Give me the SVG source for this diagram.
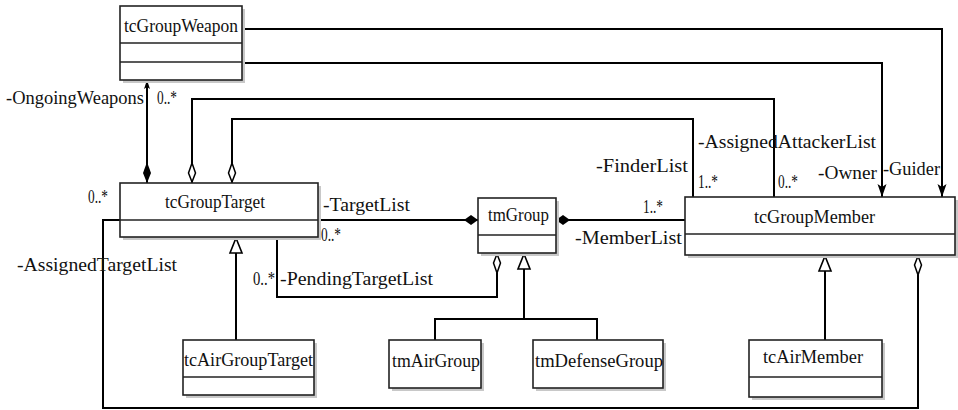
<svg xmlns="http://www.w3.org/2000/svg" width="958" height="410" viewBox="0 0 958 410">
<style>
.sh{fill:#c8c8c8;stroke:none}
.bx{fill:#fff;stroke:#222;stroke-width:1.6}
.dv{stroke:#222;stroke-width:1.6;fill:none}
.t{font-family:"Liberation Serif","Times New Roman",serif;font-size:19px;fill:#111}
.c{fill:none;stroke:#000;stroke-width:2}
</style>
<defs>
<marker id="fdS" markerUnits="userSpaceOnUse" markerWidth="16" markerHeight="12" viewBox="0 -6 16 12" refX="0" refY="0" orient="auto"><path d="M0,0 L7,-5 L14,0 L7,5 Z" fill="#000"/></marker>
<marker id="fdL" markerUnits="userSpaceOnUse" markerWidth="24" markerHeight="10" viewBox="0 -5 24 10" refX="0" refY="0" orient="auto"><path d="M0,0 L10,-4 L21,0 L10,4 Z" fill="#000"/></marker>
<marker id="hd" markerUnits="userSpaceOnUse" markerWidth="24" markerHeight="10" viewBox="0 -5 24 10" refX="0" refY="0" orient="auto"><path d="M1,0 L10,-3.5 L20,0 L10,3.5 Z" fill="#fff" stroke="#000" stroke-width="1.5"/></marker>
<marker id="tri" markerUnits="userSpaceOnUse" markerWidth="18" markerHeight="16" viewBox="0 -8 18 16" refX="0" refY="0" orient="auto"><path d="M1,0 L16,-6 L16,6 Z" fill="#fff" stroke="#000" stroke-width="1.6"/></marker>
<marker id="arr" markerUnits="userSpaceOnUse" markerWidth="14" markerHeight="10" viewBox="0 -5 14 10" refX="13" refY="0" orient="auto"><path d="M0,-4.5 L13,0 L0,4.5 L3,0 Z" fill="#000"/></marker>
<marker id="arrS" markerUnits="userSpaceOnUse" markerWidth="10" markerHeight="8" viewBox="0 -4 10 8" refX="9" refY="0" orient="auto"><path d="M0,-3 L9,0 L0,3 L2,0 Z" fill="#000"/></marker>
</defs>

<g id="connectors">
<path class="c" d="M242,29 H942 V197" marker-end="url(#arr)"/>
<path class="c" d="M242,63 H882 V197" marker-end="url(#arr)"/>
<path class="c" d="M192,183 V99 H774 V197" marker-start="url(#hd)"/>
<path class="c" d="M232,183 V119 H693 V197" marker-start="url(#hd)"/>
<path class="c" d="M147,183 V80" marker-start="url(#fdL)" marker-end="url(#arrS)"/>
<path class="c" d="M478,220 H318" marker-start="url(#fdS)"/>
<path class="c" d="M556,220 H685" marker-start="url(#fdS)"/>
<path class="c" d="M918,255 V408 H103 V220 H120" marker-start="url(#hd)"/>
<path class="c" d="M497,253 V297 H277 V237" marker-start="url(#hd)"/>
<path class="c" d="M236,237 V340" marker-start="url(#tri)"/>
<path class="c" d="M524,253 V319" marker-start="url(#tri)"/>
<path class="c" d="M435,340 V319 H597 V340"/>
<path class="c" d="M825,255 V340" marker-start="url(#tri)"/>
</g>

<g id="tcGroupWeapon">
<rect class="sh" x="123" y="9" width="122" height="74"/>
<rect class="bx" x="120" y="6" width="122" height="74"/>
<line class="dv" x1="120" y1="43" x2="242" y2="43"/>
<line class="dv" x1="120" y1="62" x2="242" y2="62"/>
<text class="t" x="124" y="32" textLength="114" lengthAdjust="spacingAndGlyphs">tcGroupWeapon</text>
</g>

<g id="tcGroupTarget">
<rect class="sh" x="123" y="186" width="198" height="54"/>
<rect class="bx" x="120" y="183" width="198" height="54"/>
<line class="dv" x1="120" y1="220" x2="318" y2="220"/>
<text class="t" x="165" y="208" textLength="100" lengthAdjust="spacingAndGlyphs">tcGroupTarget</text>
</g>

<g id="tmGroup">
<rect class="sh" x="481" y="201" width="78" height="55"/>
<rect class="bx" x="478" y="198" width="78" height="55"/>
<line class="dv" x1="478" y1="235" x2="556" y2="235"/>
<text class="t" x="488" y="221" textLength="61" lengthAdjust="spacingAndGlyphs">tmGroup</text>
</g>

<g id="tcGroupMember">
<rect class="sh" x="688" y="200" width="270" height="58"/>
<rect class="bx" x="685" y="197" width="270" height="58"/>
<line class="dv" x1="685" y1="234" x2="955" y2="234"/>
<text class="t" x="754" y="223" textLength="121" lengthAdjust="spacingAndGlyphs">tcGroupMember</text>
</g>

<g id="tcAirGroupTarget">
<rect class="sh" x="186" y="343" width="131" height="55"/>
<rect class="bx" x="183" y="340" width="131" height="55"/>
<line class="dv" x1="183" y1="377" x2="314" y2="377"/>
<text class="t" x="184" y="366" textLength="129" lengthAdjust="spacingAndGlyphs">tcAirGroupTarget</text>
</g>

<g id="tmAirGroup">
<rect class="sh" x="392" y="343" width="92" height="48"/>
<rect class="bx" x="389" y="340" width="92" height="48"/>
<text class="t" x="392" y="367" textLength="88" lengthAdjust="spacingAndGlyphs">tmAirGroup</text>
</g>

<g id="tmDefenseGroup">
<rect class="sh" x="536" y="343" width="130" height="48"/>
<rect class="bx" x="533" y="340" width="130" height="48"/>
<text class="t" x="535" y="367" textLength="128" lengthAdjust="spacingAndGlyphs">tmDefenseGroup</text>
</g>

<g id="tcAirMember">
<rect class="sh" x="752" y="343" width="133" height="57"/>
<rect class="bx" x="749" y="340" width="133" height="57"/>
<line class="dv" x1="749" y1="377" x2="882" y2="377"/>
<text class="t" x="763" y="363" textLength="100" lengthAdjust="spacingAndGlyphs">tcAirMember</text>
</g>

<g id="labels">
<text class="t" x="6" y="104" textLength="138" lengthAdjust="spacingAndGlyphs">-OngoingWeapons</text>
<text class="t" x="157" y="104" textLength="20" lengthAdjust="spacingAndGlyphs">0..*</text>
<text class="t" x="88" y="203" textLength="20" lengthAdjust="spacingAndGlyphs">0..*</text>
<text class="t" x="17" y="271" textLength="160" lengthAdjust="spacingAndGlyphs">-AssignedTargetList</text>
<text class="t" x="323" y="211" textLength="87" lengthAdjust="spacingAndGlyphs">-TargetList</text>
<text class="t" x="321" y="241" textLength="20" lengthAdjust="spacingAndGlyphs">0..*</text>
<text class="t" x="253" y="285" textLength="22" lengthAdjust="spacingAndGlyphs">0..*</text>
<text class="t" x="280" y="285" textLength="153" lengthAdjust="spacingAndGlyphs">-PendingTargetList</text>
<text class="t" x="698" y="148" textLength="178" lengthAdjust="spacingAndGlyphs">-AssignedAttackerList</text>
<text class="t" x="596" y="172" textLength="92" lengthAdjust="spacingAndGlyphs">-FinderList</text>
<text class="t" x="698" y="188" textLength="20" lengthAdjust="spacingAndGlyphs">1..*</text>
<text class="t" x="778" y="188" textLength="20" lengthAdjust="spacingAndGlyphs">0..*</text>
<text class="t" x="818" y="179" textLength="59" lengthAdjust="spacingAndGlyphs">-Owner</text>
<text class="t" x="883" y="175" textLength="57" lengthAdjust="spacingAndGlyphs">-Guider</text>
<text class="t" x="643" y="213" textLength="20" lengthAdjust="spacingAndGlyphs">1..*</text>
<text class="t" x="575" y="244" textLength="107" lengthAdjust="spacingAndGlyphs">-MemberList</text>
</g>
</svg>
